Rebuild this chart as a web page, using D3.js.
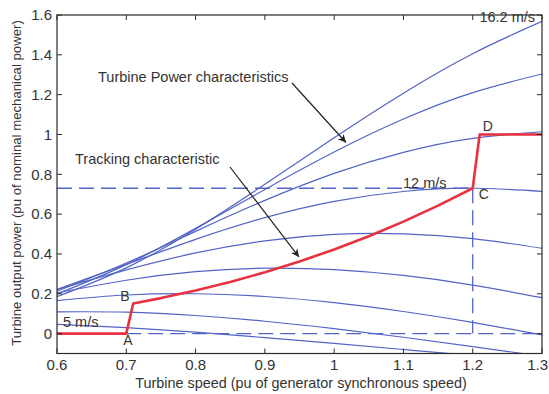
<!DOCTYPE html>
<html>
<head>
<meta charset="utf-8">
<script src="https://cdn.jsdelivr.net/npm/d3@7"></script>
<style>
  html, body { margin: 0; padding: 0; background: #ffffff; }
  svg { display: block; font-family: "Liberation Sans", Arial, Helvetica, sans-serif; }
</style>
</head>
<body>
<svg id="chart" width="549" height="394"></svg>
<script>
// ---- data ----
const rotorSpeed = [0.6, 0.7, 0.8, 0.9, 1.0, 1.1, 1.2, 1.3];
const windSpeeds = ["5", "6.4", "7.8", "9.2", "10.6", "12", "13.4", "14.8", "16.2"];
const power5    = [0.0466, 0.0303, 0.0071, -0.0201, -0.0496, -0.0799, -0.1102, -0.1399];
const power6_4  = [0.1094, 0.1078, 0.0909, 0.0621, 0.0249, -0.0183, -0.0651, -0.1138];
const power7_8  = [0.1658, 0.1937, 0.2001, 0.1863, 0.1554, 0.1110, 0.0562, -0.0061];
const power9_2  = [0.2038, 0.2679, 0.3108, 0.3285, 0.3213, 0.2920, 0.2438, 0.1803];
const power10_6 = [0.2211, 0.3199, 0.4050, 0.4659, 0.4980, 0.5009, 0.4767, 0.4284];
const power12   = [0.2219, 0.3475, 0.4732, 0.5822, 0.6640, 0.7137, 0.7300, 0.7144];
const power13_4 = [0.2125, 0.3542, 0.5134, 0.6688, 0.8047, 0.9104, 0.9806, 1.0136];
const power14_8 = [0.1988, 0.3464, 0.5283, 0.7238, 0.9118, 1.0774, 1.2101, 1.3039];
const power16_2 = [0.1854, 0.3302, 0.5244, 0.7495, 0.9836, 1.2074, 1.4057, 1.5681];

const trackSpeed = [0.6, 0.7, 0.71, 0.75, 0.8, 0.85, 0.9, 0.95, 1.0, 1.05, 1.1, 1.15, 1.2, 1.21, 1.3];
const trackPower = [0, 0, 0.1512, 0.1782, 0.2163, 0.2594, 0.3080, 0.3622, 0.4225, 0.4890, 0.5623, 0.6425, 0.73, 1.0, 1.0];

const pointLabels = ["A", "B", "C", "D"];
const pointSpeed  = [0.7, 0.71, 1.2, 1.21];
const pointPower  = [0, 0.1512, 0.73, 1.0];

const xTicks = [0.6, 0.7, 0.8, 0.9, 1.0, 1.1, 1.2, 1.3];
const yTicks = [0, 0.2, 0.4, 0.6, 0.8, 1.0, 1.2, 1.4, 1.6];

// ---- layout ----
const svg = d3.select("#chart");
const L = 57, R = 542, T = 15, B = 353.5;
const x = d3.scaleLinear().domain([0.6, 1.3]).range([L, R]);
const y = d3.scaleLinear().domain([-0.1, 1.6]).range([B, T]);

const blue = "#5264c6";
const red = "#e8323f";
const ink = "#2a2a2a";

svg.append("rect").attr("width", 549).attr("height", 394).attr("fill", "#ffffff");

svg.append("defs").append("clipPath").attr("id", "plotclip")
  .append("rect").attr("x", L).attr("y", T).attr("width", R - L).attr("height", B - T);

const plot = svg.append("g").attr("clip-path", "url(#plotclip)");

const curves = [power5, power6_4, power7_8, power9_2, power10_6, power12, power13_4, power14_8, power16_2];
const line = d3.line().x(d => x(d[0])).y(d => y(d[1])).curve(d3.curveNatural);

curves.forEach(vals => {
  plot.append("path")
    .attr("d", line(rotorSpeed.map((s, i) => [s, vals[i]])))
    .attr("fill", "none").attr("stroke", blue).attr("stroke-width", 1.2);
});

// dashed reference lines
const dashed = [
  [[0.6, 0.73], [1.2, 0.73]],
  [[1.2, 0.73], [1.2, 0]],
  [[0.7, 0], [1.3, 0]],
  [[1.21, 1.0], [1.3, 1.0]]
];
const lin = d3.line().x(d => x(d[0])).y(d => y(d[1]));
dashed.forEach(seg => {
  plot.append("path").attr("d", lin(seg))
    .attr("fill", "none").attr("stroke", blue).attr("stroke-width", 1.3)
    .attr("stroke-dasharray", "15,7");
});

// tracking characteristic
plot.append("path")
  .attr("d", lin(trackSpeed.map((s, i) => [s, trackPower[i]])))
  .attr("fill", "none").attr("stroke", red).attr("stroke-width", 2.6)
  .attr("stroke-linejoin", "round");

// frame
svg.append("rect").attr("x", L).attr("y", T).attr("width", R - L).attr("height", B - T)
  .attr("fill", "none").attr("stroke", ink).attr("stroke-width", 1.2);

// ticks (inward, all sides)
const tickLen = 5;
const tg = svg.append("g").attr("stroke", ink).attr("stroke-width", 1);
xTicks.forEach(t => {
  tg.append("line").attr("x1", x(t)).attr("x2", x(t)).attr("y1", B).attr("y2", B - tickLen);
  tg.append("line").attr("x1", x(t)).attr("x2", x(t)).attr("y1", T).attr("y2", T + tickLen);
});
yTicks.forEach(t => {
  tg.append("line").attr("x1", L).attr("x2", L + tickLen).attr("y1", y(t)).attr("y2", y(t));
  tg.append("line").attr("x1", R).attr("x2", R - tickLen).attr("y1", y(t)).attr("y2", y(t));
});

// tick labels
const fmt = d => d3.format("~g")(d);
const last = xTicks[xTicks.length - 1];
svg.append("g").selectAll("text").data(xTicks).join("text")
  .attr("x", d => d === last ? 548 : x(d)).attr("y", 370)
  .attr("text-anchor", d => d === last ? "end" : "middle")
  .attr("font-size", 15).attr("fill", "#333").text(fmt);
svg.append("g").selectAll("text").data(yTicks).join("text")
  .attr("x", 52).attr("y", d => y(d) + 5.3).attr("text-anchor", "end")
  .attr("font-size", 15).attr("fill", "#333").text(fmt);

// axis labels
svg.append("text").attr("x", 301).attr("y", 388).attr("text-anchor", "middle")
  .attr("font-size", 14.4).attr("fill", "#333")
  .text("Turbine speed (pu of generator synchronous speed)");
svg.append("text").attr("transform", "translate(21,183) rotate(-90)").attr("text-anchor", "middle")
  .attr("font-size", 13.2).attr("fill", "#333")
  .text("Turbine output power (pu of nominal mechanical power)");

// annotations
const ann = svg.append("g").attr("font-size", 14.5).attr("fill", "#333");
ann.append("text").attr("x", 98).attr("y", 82).text("Turbine Power characteristics");
ann.append("text").attr("x", 75).attr("y", 164).text("Tracking characteristic");
ann.append("text").attr("x", 535).attr("y", 22).attr("text-anchor", "end").text(windSpeeds[8] + " m/s");
ann.append("text").attr("x", 403).attr("y", 188).text(windSpeeds[5] + " m/s");
ann.append("text").attr("x", 63).attr("y", 327).text(windSpeeds[0] + " m/s");

// point labels
const lblOff = [[-3, 11], [-13, -2], [6, 11], [3, -3]];
pointLabels.forEach((p, i) => {
  svg.append("text").attr("x", x(pointSpeed[i]) + lblOff[i][0]).attr("y", y(pointPower[i]) + lblOff[i][1])
    .attr("font-size", 14).attr("fill", "#333").text(p);
});

// arrows
const defs = svg.select("defs");
defs.append("marker").attr("id", "arrow").attr("viewBox", "0 0 10 10")
  .attr("refX", 10).attr("refY", 5).attr("markerWidth", 11).attr("markerHeight", 8)
  .attr("markerUnits", "userSpaceOnUse").attr("orient", "auto")
  .append("path").attr("d", "M0,0 L10,5 L0,10 L3,5 Z").attr("fill", "#222");
const arrows = [
  [[292, 83], [346, 142.5]],
  [[230, 167], [299, 257]]
];
arrows.forEach(a => {
  svg.append("line").attr("x1", a[0][0]).attr("y1", a[0][1]).attr("x2", a[1][0]).attr("y2", a[1][1])
    .attr("stroke", "#222").attr("stroke-width", 1.2).attr("marker-end", "url(#arrow)");
});
</script>
</body>
</html>
